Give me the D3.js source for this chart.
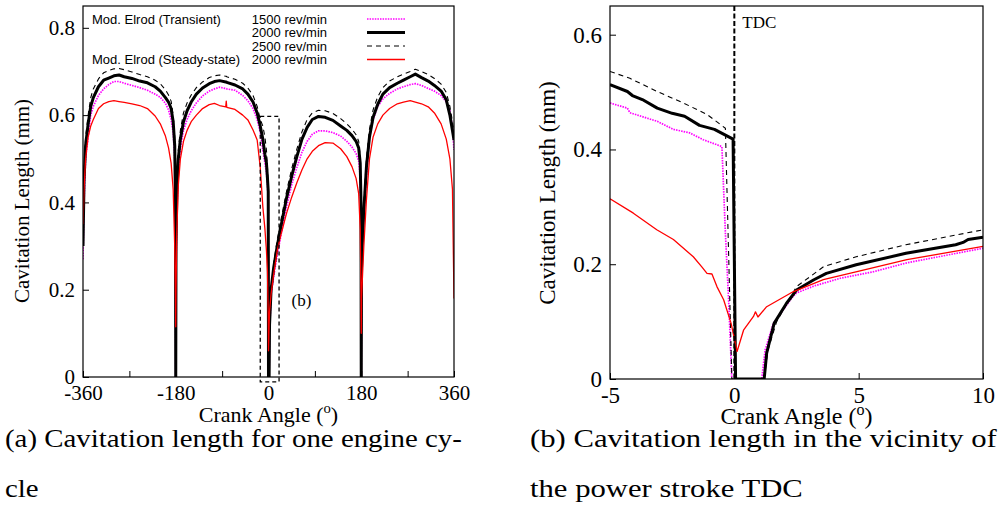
<!DOCTYPE html>
<html lang="en">
<head>
<meta charset="UTF-8">
<script src="https://d3js.org/d3.v7.min.js"></script>
<style>
  body { margin: 0; background: #fff; }
  .line { fill: none; }
</style>
</head>
<body>
<svg id="canvas" width="1000" height="515"></svg>
<script>
// ---- panel (a): one engine cycle ----
const angleA = [-360, -358, -355, -350, -345, -340, -330, -320, -310, -300, -290, -280, -265, -250, -235, -220, -210, -200, -194, -189, -185, -182, -180.5, -180,
  -179.5, -178, -175, -171, -165, -158, -150, -140, -128, -115, -105, -95, -83, -82, -81, -65, -50, -40, -30, -22, -16, -11, -7, -4, -2, -0.5, 0, 0.6, 1.2,
  2, 5, 10, 17, 25, 35, 45, 55, 65, 75, 85, 97, 110, 125, 140, 152, 162, 170, 175, 178, 179.5, 180,
  180.5, 182, 185, 190, 196, 203, 212, 222, 235, 250, 262, 275, 285, 297, 310, 322, 335, 345, 352, 357, 360];

const cav1500A = [0.27, 0.4, 0.5, 0.55, 0.6, 0.62, 0.645, 0.66, 0.67, 0.677, 0.677, 0.673, 0.668, 0.663, 0.657, 0.648, 0.641, 0.627, 0.612, 0.59, 0.56, 0.5, 0.35, 0,
  0.25, 0.38, 0.47, 0.525, 0.565, 0.59, 0.61, 0.628, 0.644, 0.655, 0.66, 0.664, 0.661, 0.661, 0.66, 0.657, 0.645, 0.633, 0.615, 0.59, 0.56, 0.52, 0.49, 0.468, 0.44, 0.405, 0, 0, 0,
  0.1, 0.19, 0.23, 0.28, 0.33, 0.39, 0.44, 0.48, 0.515, 0.54, 0.556, 0.564, 0.564, 0.56, 0.552, 0.54, 0.527, 0.512, 0.495, 0.46, 0.37, 0,
  0.22, 0.3, 0.37, 0.46, 0.55, 0.59, 0.62, 0.637, 0.65, 0.66, 0.665, 0.67, 0.672, 0.668, 0.661, 0.655, 0.645, 0.63, 0.61, 0.57, 0.52];

const cav2000A = [0.3, 0.45, 0.53, 0.58, 0.62, 0.64, 0.665, 0.68, 0.685, 0.69, 0.692, 0.688, 0.684, 0.678, 0.674, 0.665, 0.655, 0.64, 0.63, 0.615, 0.585, 0.53, 0.4, 0,
  0.3, 0.42, 0.5, 0.545, 0.585, 0.61, 0.63, 0.648, 0.662, 0.672, 0.677, 0.679, 0.676, 0.676, 0.675, 0.669, 0.66, 0.648, 0.63, 0.605, 0.575, 0.545, 0.51, 0.49, 0.455, 0.425, 0, 0, 0,
  0.12, 0.2, 0.25, 0.3, 0.35, 0.41, 0.46, 0.505, 0.545, 0.572, 0.59, 0.597, 0.595, 0.588, 0.575, 0.565, 0.553, 0.54, 0.525, 0.49, 0.4, 0,
  0.25, 0.3, 0.38, 0.48, 0.55, 0.595, 0.625, 0.648, 0.663, 0.673, 0.68, 0.688, 0.694, 0.686, 0.678, 0.668, 0.655, 0.635, 0.6, 0.565, 0.543];

const cav2500A = [0.31, 0.47, 0.55, 0.6, 0.64, 0.66, 0.683, 0.697, 0.702, 0.706, 0.707, 0.704, 0.699, 0.693, 0.688, 0.68, 0.672, 0.658, 0.646, 0.632, 0.6, 0.55, 0.42, 0,
  0.31, 0.44, 0.52, 0.565, 0.605, 0.628, 0.646, 0.663, 0.676, 0.686, 0.69, 0.692, 0.689, 0.689, 0.688, 0.682, 0.673, 0.662, 0.645, 0.62, 0.59, 0.575, 0.55, 0.52, 0.481, 0.44, 0, 0, 0,
  0.125, 0.2, 0.26, 0.315, 0.365, 0.425, 0.477, 0.522, 0.562, 0.59, 0.605, 0.611, 0.61, 0.604, 0.592, 0.58, 0.568, 0.555, 0.54, 0.505, 0.41, 0,
  0.26, 0.32, 0.4, 0.5, 0.568, 0.612, 0.642, 0.663, 0.678, 0.688, 0.694, 0.7, 0.705, 0.7, 0.693, 0.684, 0.671, 0.652, 0.62, 0.585, 0.56];

const cavSteadyA = [0.35, 0.43, 0.5, 0.55, 0.575, 0.59, 0.615, 0.626, 0.631, 0.633, 0.631, 0.629, 0.626, 0.622, 0.615, 0.598, 0.58, 0.552, 0.525, 0.49, 0.43, 0.3, 0.18, 0.115,
  0.2, 0.33, 0.44, 0.5, 0.54, 0.565, 0.585, 0.6, 0.615, 0.624, 0.627, 0.622, 0.619, 0.632, 0.618, 0.613, 0.6, 0.589, 0.566, 0.543, 0.48, 0.39, 0.34, 0.29, 0.24, 0.14, 0.06, 0.085, 0.12,
  0.15, 0.19, 0.235, 0.29, 0.33, 0.375, 0.412, 0.445, 0.475, 0.5, 0.517, 0.53, 0.537, 0.536, 0.523, 0.505, 0.482, 0.455, 0.42, 0.34, 0.2, 0.1,
  0.18, 0.22, 0.3, 0.405, 0.5, 0.55, 0.58, 0.6, 0.615, 0.626, 0.63, 0.633, 0.63, 0.626, 0.619, 0.605, 0.58, 0.545, 0.5, 0.43, 0.18];

// ---- panel (b): close to TDC ----
const angle1500B = [-5, -4.3, -4.2, -3.1, -2.45, -1.8, -1.25, -0.5, -0.36, -0.23, -0.1, 1.1, 1.24, 1.57, 2.36, 2.5, 3.2, 4.3, 5.6, 6.9, 10];
const cav1500B = [0.481, 0.472, 0.464, 0.449, 0.435, 0.429, 0.417, 0.405, 0.255, 0.138, 0, 0, 0.051, 0.097, 0.144, 0.15, 0.162, 0.176, 0.187, 0.202, 0.228];

const angle2000B = [-5, -4.3, -4.1, -3.7, -3.1, -2.5, -2.0, -1.4, -0.8, -0.05, 0.05, 1.2, 1.3, 1.6, 2.1, 2.5, 3.2, 3.7, 4.9, 6.9, 8.9, 9.2, 9.4, 10];
const cav2000B = [0.513, 0.501, 0.494, 0.487, 0.472, 0.463, 0.458, 0.442, 0.435, 0.418, 0, 0, 0.045, 0.097, 0.132, 0.155, 0.173, 0.184, 0.199, 0.219, 0.234, 0.238, 0.243, 0.247];

const angle2500B = [-5, -4.2, -3.1, -2.05, -1.1, -0.36, -0.1, 1.2, 1.35, 1.7, 2.5, 3.6, 4.9, 6.9, 10];
const cav2500B = [0.536, 0.524, 0.501, 0.481, 0.461, 0.437, 0, 0, 0.05, 0.1, 0.161, 0.196, 0.213, 0.234, 0.26];

const angleSteadyB = [-5, -4.06, -3.12, -2.45, -1.65, -1.3, -1.1, -0.9, -0.7, -0.43, -0.13, 0.11, 0.37, 0.77, 0.85, 0.95, 1.3, 2.36, 3.58, 4.93, 6.94, 10];
const cavSteadyB = [0.314, 0.289, 0.26, 0.243, 0.213, 0.195, 0.184, 0.183, 0.161, 0.138, 0.097, 0.048, 0.085, 0.109, 0.117, 0.108, 0.126, 0.152, 0.173, 0.187, 0.208, 0.231];

const legendNames = ["1500 rev/min", "2000 rev/min", "2500 rev/min", "2000 rev/min"];
const legendGroups = ["Mod. Elrod (Transient)", "", "", "Mod. Elrod (Steady-state)"];

const xTicksA = [-360, -270, -180, -90, 0, 90, 180, 270, 360];
const xTicksB = [-5, 0, 5, 10];
const yTicksA = [0, 0.2, 0.4, 0.6, 0.8];
const yTicksB = [0, 0.2, 0.4, 0.6];

const serif = "Liberation Serif";
const sans = "Liberation Sans";

// line looks, same order as the legend
const looks = [
  { stroke: "#ff00ff", width: 1.7, dash: "1.5,1.1" },
  { stroke: "#000", width: 3, dash: null },
  { stroke: "#000", width: 1.1, dash: "5,4" },
  { stroke: "#ff0000", width: 1.3, dash: null }
];

let svg = d3.select("#canvas");
svg.append("rect").attr("width", 1000).attr("height", 515).attr("fill", "#fff");

const xA = d3.scaleLinear().domain([-360, 360]).range([83, 454]);
const yA = d3.scaleLinear().domain([0, 0.85]).range([377, 6]);
const xB = d3.scaleLinear().domain([-5, 10]).range([610, 983]);
const yB = d3.scaleLinear().domain([0, 0.65]).range([379, 6]);

function zip(xs, ys) { return xs.map((v, i) => [v, ys[i]]); }

function panel(id, x, y, series, xt, yt, xfmt, fs, ylab) {
  let g = svg.append("g").style("font-family", serif);
  g.append("clipPath").attr("id", id)
    .append("rect")
    .attr("x", x.range()[0]).attr("y", y.range()[1])
    .attr("width", x.range()[1] - x.range()[0])
    .attr("height", y.range()[0] - y.range()[1]);

  let xAxis = g.append("g")
    .attr("transform", `translate(0,${y.range()[0]})`)
    .call(d3.axisBottom(x).tickValues(xt).tickFormat(xfmt).tickSizeInner(-6).tickSizeOuter(0).tickPadding(8));
  xAxis.select(".domain").remove();
  xAxis.attr("font-size", fs).style("font-family", serif);
  xAxis.selectAll("text").attr("fill", "#000").style("font-family", serif);

  let yAxis = g.append("g")
    .attr("transform", `translate(${x.range()[0]},0)`)
    .call(d3.axisLeft(y).tickValues(yt).tickFormat(d => d === 0 ? "0" : d3.format(".1f")(d)).tickSizeInner(-6).tickSizeOuter(0).tickPadding(8));
  yAxis.select(".domain").remove();
  yAxis.attr("font-size", fs).style("font-family", serif);
  yAxis.selectAll("text").attr("fill", "#000").style("font-family", serif);

  const lineGen = d3.line().x(d => x(d[0])).y(d => y(d[1]));
  let lines = g.append("g").attr("clip-path", `url(#${id})`);
  series.forEach((s, i) => {
    lines.append("path")
      .attr("class", "line")
      .attr("d", lineGen(s))
      .attr("stroke", looks[i].stroke)
      .attr("stroke-width", looks[i].width)
      .attr("stroke-dasharray", looks[i].dash)
      .attr("stroke-linejoin", "round");
  });

  g.append("rect")
    .attr("x", x.range()[0]).attr("y", y.range()[1])
    .attr("width", x.range()[1] - x.range()[0])
    .attr("height", y.range()[0] - y.range()[1])
    .attr("fill", "none").attr("stroke", "#000").attr("stroke-width", 1.2);

  // axis titles
  let xl = g.append("text")
    .attr("x", (x.range()[0] + x.range()[1]) / 2)
    .attr("y", y.range()[0] + 45)
    .attr("text-anchor", "middle")
    .attr("font-size", fs + 1)
    .style("font-family", serif);
  xl.append("tspan").text("Crank Angle (");
  xl.append("tspan").attr("dy", -9).attr("font-size", fs * 0.7).text("o");
  xl.append("tspan").attr("dy", 9).text(")");

  g.append("text")
    .attr("transform", `translate(${ylab[0]},${ylab[1]}) rotate(-90)`)
    .attr("text-anchor", "middle")
    .attr("dominant-baseline", "central")
    .attr("font-size", fs)
    .style("font-family", serif)
    .text("Cavitation Length (mm)");
  return g;
}

let gA = panel("clipA", xA, yA,
  [zip(angleA, cav1500A), zip(angleA, cav2000A), zip(angleA, cav2500A), zip(angleA, cavSteadyA)],
  xTicksA, yTicksA, d => d % 180 === 0 ? d : "", 21, [22, 201]);

let gB = panel("clipB", xB, yB,
  [zip(angle1500B, cav1500B), zip(angle2000B, cav2000B), zip(angle2500B, cav2500B), zip(angleSteadyB, cavSteadyB)],
  xTicksB, yTicksB, d => d, 23, [547, 193]);

// zoom box and its label on panel (a)
gA.append("rect")
  .attr("x", xA(-16)).attr("y", yA(0.597))
  .attr("width", xA(20.5) - xA(-16)).attr("height", yA(-0.011) - yA(0.597))
  .attr("fill", "none").attr("stroke", "#000").attr("stroke-width", 1.3).attr("stroke-dasharray", "4,3");
gA.append("text")
  .attr("x", xA(64)).attr("y", yA(0.176))
  .attr("text-anchor", "middle").attr("dominant-baseline", "central")
  .attr("font-size", 17).style("font-family", serif).text("(b)");

// TDC line on panel (b)
gB.selectAll(".tdc").data([0]).join("line")
  .attr("class", "tdc")
  .attr("x1", d => xB(d)).attr("x2", d => xB(d))
  .attr("y1", yB(0.65)).attr("y2", yB(0))
  .attr("stroke", "#000").attr("stroke-width", 2).attr("stroke-dasharray", "5,2.5");
gB.append("text")
  .attr("x", xB(0) + 8).attr("y", 28)
  .attr("font-size", 17).style("font-family", serif).text("TDC");

// legend
let leg = svg.append("g").attr("font-size", 13).style("font-family", sans);
legendNames.forEach((name, i) => {
  let yy = 19 + i * 13.5;
  leg.append("text").attr("x", 92).attr("y", yy).attr("dominant-baseline", "central").style("font-family", sans).text(legendGroups[i]);
  leg.append("text").attr("x", 327).attr("y", yy).attr("text-anchor", "end").attr("dominant-baseline", "central").style("font-family", sans).text(name);
  leg.append("line")
    .attr("x1", 367).attr("x2", 405).attr("y1", yy).attr("y2", yy)
    .attr("stroke", looks[i].stroke).attr("stroke-width", looks[i].width)
    .attr("stroke-dasharray", looks[i].dash);
});

// captions
function caption(x0, width, l1, l2) {
  let c = svg.append("g").attr("font-size", 26).style("font-family", serif);
  let t1 = c.append("text").attr("x", 0).attr("y", 0).style("font-family", serif).text(l1);
  c.append("text").attr("x", 0).attr("y", 50).style("font-family", serif).text(l2);
  let f = width / t1.node().getComputedTextLength();
  c.attr("transform", `translate(${x0},447) scale(${f},1)`);
}
caption(5, 457, "(a) Cavitation length for one engine cy-", "cle");
caption(530, 467, "(b) Cavitation length in the vicinity of", "the power stroke TDC");
</script>
</body>
</html>
